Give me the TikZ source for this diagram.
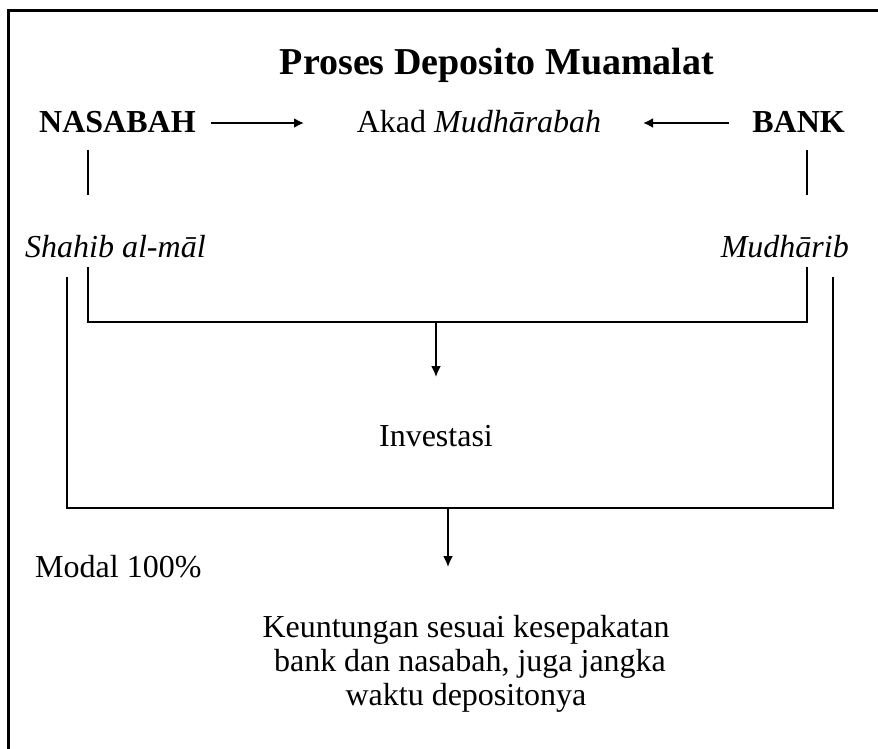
\documentclass[tikz,border=0pt]{standalone}
\usepackage{fontspec}
\setmainfont{Liberation Serif}
\usetikzlibrary{arrows.meta}
\begin{document}
\begin{tikzpicture}[x=1pt,y=-1pt,
  txt/.style={inner sep=0pt, font=\fontsize{32}{36}\selectfont},
  bld/.style={inner sep=0pt, font=\fontsize{32}{36}\selectfont\bfseries},
  conn/.style={line width=1.8pt},
  arr/.style={conn, -{Latex[length=11pt,width=10pt]}},
  harr/.style={line width=2.4pt, -{Latex[length=10pt,width=10pt]}},
  frame/.style={line width=2.2pt}]
\useasboundingbox (0,0) rectangle (878,749);
\draw[frame] (8.5,749) -- (8.5,10.5) -- (878,10.5);
\node[anchor=base, inner sep=0pt, font=\fontsize{38}{40}\selectfont\bfseries] (title) at (497,75) {Proses Deposito Muamalat};
\node[bld, anchor=base west] (nas) at (39,132) {NASABAH};
\node[txt, anchor=base] (akad) at (479,132) {Akad \textit{Mudhārabah}};
\node[bld, anchor=base east] (bank) at (845,132) {BANK};
\node[txt, anchor=base west] (shahib) at (25,257) {\textit{Shahib al-māl}};
\node[txt, anchor=base east] (mudh) at (849,257) {\textit{Mudhārib}};
\node[txt, anchor=base] (inv) at (436,446) {Investasi};
\node[txt, anchor=base west] (modal) at (35,577) {Modal 100\%};
\node[txt, anchor=north, align=center, font=\fontsize{32}{34}\selectfont] (keu) at (466,615) {Keuntungan sesuai kesepakatan\\ \hspace*{8pt}bank dan nasabah, juga jangka\\waktu depositonya};
% arrows to Akad
\coordinate (a1s) at (211,123);
\coordinate (a1e) at (304,123);
\coordinate (a2s) at (729,123);
\coordinate (a2e) at (643,123);
\draw[harr] (a1s) -- (a1e);
\draw[harr] (a2s) -- (a2e);
% stems
\coordinate (ns1) at (88,150);
\coordinate (ns2) at (88,195);
\coordinate (bs1) at (807,150);
\coordinate (bs2) at (807,195);
\draw[conn] (ns1) -- (ns2);
\draw[conn] (bs1) -- (bs2);
% inner bracket
\coordinate (iL) at (88,267);
\coordinate (iLb) at (88,322);
\coordinate (iRb) at (807,322);
\coordinate (iR) at (807,267);
\coordinate (iM) at (436,322);
\coordinate (iT) at (436,377);
\draw[conn] (iL) -- (iLb) -- (iRb) -- (iR);
\draw[arr] (iM) -- (iT);
% outer bracket
\coordinate (oL) at (67,277);
\coordinate (oLb) at (67,508);
\coordinate (oRb) at (833,508);
\coordinate (oR) at (833,277);
\coordinate (oM) at (448,508);
\coordinate (oT) at (448,567);
\draw[conn] (oL) -- (oLb) -- (oRb) -- (oR);
\draw[arr] (oM) -- (oT);
\end{tikzpicture}
\end{document}
